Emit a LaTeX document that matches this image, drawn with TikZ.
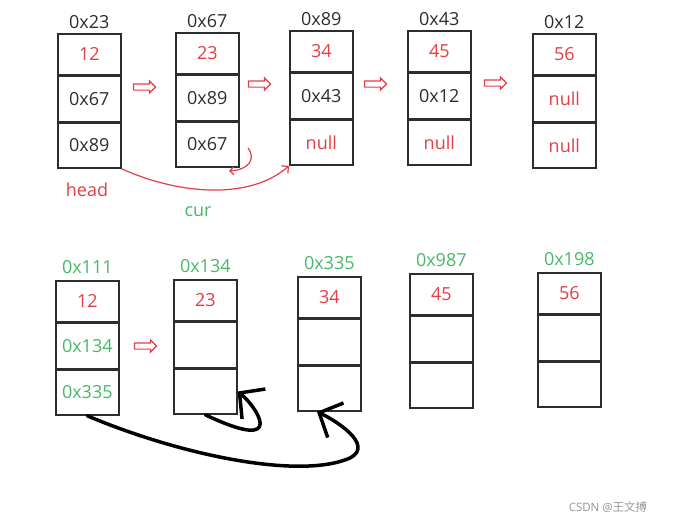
\documentclass[tikz,border=0pt]{standalone}
\usepackage{fontspec}
\setmainfont{Open Sans}
\newfontfamily\cjkfont{Noto Sans CJK SC}
\usetikzlibrary{positioning, calc, arrows.meta, shapes.arrows}
\definecolor{valred}{RGB}{226,62,70}
\definecolor{addrgreen}{RGB}{72,184,104}
\definecolor{ink}{RGB}{45,45,45}
\definecolor{markgray}{RGB}{150,150,150}
\newcommand{\vr}[1]{\textcolor{valred}{#1}}
\newcommand{\ag}[1]{\textcolor{addrgreen}{#1}}

\begin{document}
\begin{tikzpicture}[x=1pt, y=-1pt, font=\fontsize{18}{21}\selectfont,
    cell/.style={draw=ink, line width=1.6pt, minimum width=63pt, inner sep=0pt, anchor=north west, text=ink},
    addr/.style={inner sep=1pt, text=ink},
    hollow/.style={single arrow, draw=valred, line width=1.2pt, inner sep=2.5pt, minimum height=22pt, single arrow head extend=3pt},
    handline/.style={line width=3.5pt, line cap=round, -{Straight Barb[length=18pt, width=38pt]}}]
    \useasboundingbox (0,0) rectangle (688,525);

    % list before: addresses in black
    \foreach \nm/\x/\y/\ad/\ta/\tb/\tc in {
        p1/57/33/0x23/\vr{12}/0x67/0x89,
        p2/175/32/0x67/\vr{23}/0x89/0x67,
        p3/289/30/0x89/\vr{34}/0x43/\vr{null},
        p4/407/30/0x43/\vr{45}/0x12/\vr{null},
        p5/532/33/0x12/\vr{56}/\vr{null}/\vr{null}}{
        \node[cell, minimum height=41pt] (\nm-a) at (\x,\y) {\ta};
        \node[cell, minimum height=45pt] (\nm-b) at (\nm-a.south west) {\tb};
        \node[cell, minimum height=45pt] (\nm-c) at (\nm-b.south west) {\tc};
        \node[addr, above=3pt of \nm-a.north] (\nm-ad) {\ad};
    }

    % copied list: addresses in green
    \foreach \nm/\x/\y/\ad/\ta/\tb/\tc in {
        q1/55/280/\ag{0x111}/\vr{12}/\ag{0x134}/\ag{0x335},
        q2/173/279/\ag{0x134}/\vr{23}/{}/{},
        q3/297/276/\ag{0x335}/\vr{34}/{}/{},
        q4/409/273/\ag{0x987}/\vr{45}/{}/{},
        q5/537/272/\ag{0x198}/\vr{56}/{}/{}}{
        \node[cell, minimum height=41pt] (\nm-a) at (\x,\y) {\ta};
        \node[cell, minimum height=45pt] (\nm-b) at (\nm-a.south west) {\tb};
        \node[cell, minimum height=45pt] (\nm-c) at (\nm-b.south west) {\tc};
        \node[addr, above=5pt of \nm-a.north] (\nm-ad) {\ad};
    }

    \node[hollow] (h1) at (143,87) {};
    \node[hollow] (h2) at (258,84) {};
    \node[hollow] (h3) at (374,84) {};
    \node[hollow] (h4) at (494,83) {};
    \node[hollow] (h5) at (144,346) {};

    \node[text=valred] (head) at (87,190) {head};
    \node[text=addrgreen] (cur) at (198,212) {cur};

    \draw[valred, line width=1.2pt, -{Straight Barb[length=5pt]}] (p1-c.south east) .. controls (180,195) and (250,200) .. (p3-c.south west);
    \coordinate (curl-s) at (248,148);
    \coordinate (curl-e) at (229,171);
    \draw[valred, line width=1.2pt, -{Straight Barb[length=4pt]}] (curl-s) .. controls (257,160) and (247,170) .. (curl-e);

    \draw[handline] (q1-c.south) .. controls (180,455) and (300,480) .. (350,458) .. controls (375,445) and (335,420) .. ($(q3-c.south west)+(20,0)$);
    \draw[handline] (q2-c.south) .. controls (290,455) and (255,405) .. (q2-c.east);

    \node[text=markgray, font=\fontsize{11.5}{14}\selectfont] (mark) at (608,507) {CSDN @{\cjkfont 王文搏}};
\end{tikzpicture}
\end{document}
